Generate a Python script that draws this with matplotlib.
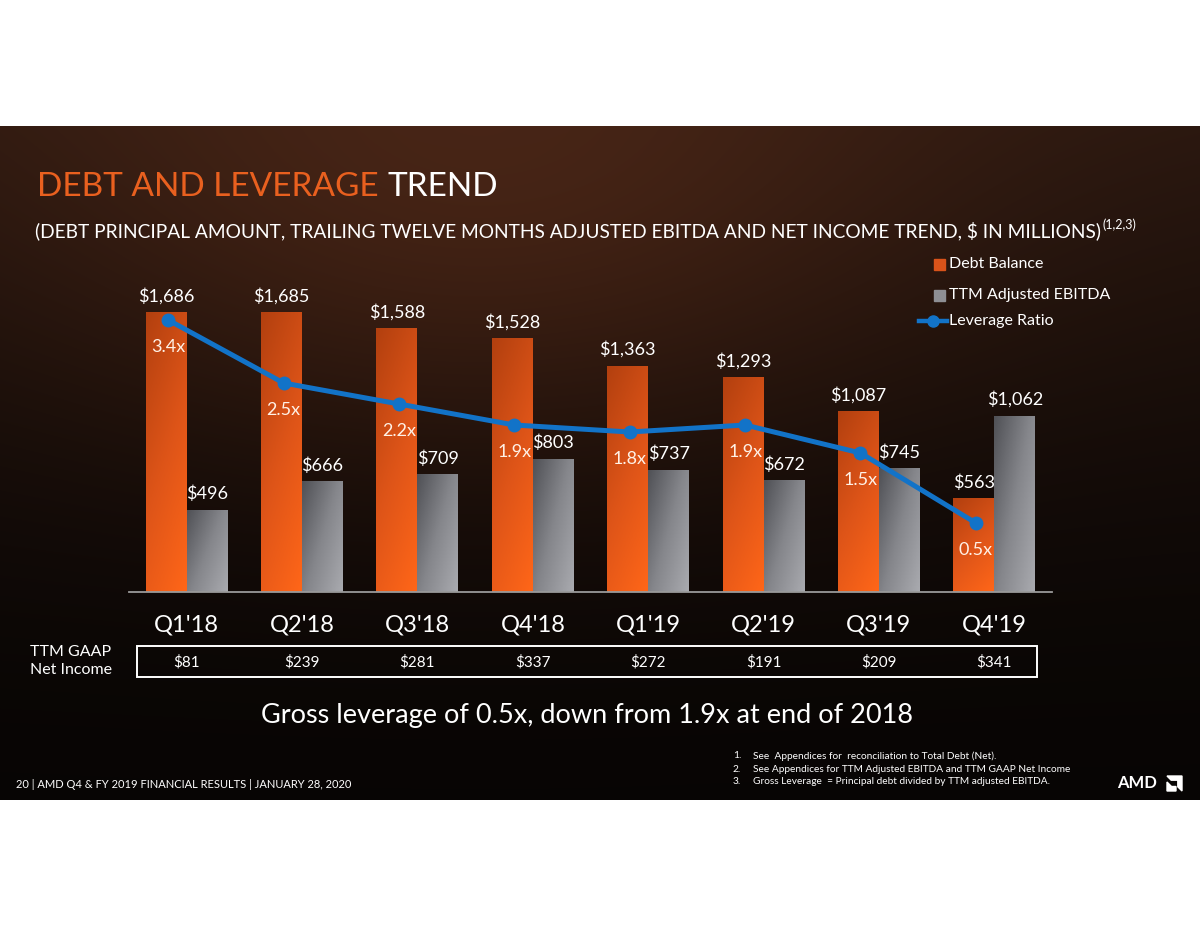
import matplotlib
matplotlib.use('Agg')
import matplotlib.pyplot as plt
import matplotlib.transforms as mtransforms
import numpy as np
from matplotlib.colors import LinearSegmentedColormap
from matplotlib.patches import Rectangle, Polygon
from matplotlib.lines import Line2D

quarters = ["Q1'18", "Q2'18", "Q3'18", "Q4'18", "Q1'19", "Q2'19", "Q3'19", "Q4'19"]
debt = [1686, 1685, 1588, 1528, 1363, 1293, 1087, 563]
ebitda = [496, 666, 709, 803, 737, 672, 745, 1062]
leverage = [3.4, 2.5, 2.2, 1.9, 1.8, 1.9, 1.5, 0.5]
net_income = [81, 239, 281, 337, 272, 191, 209, 341]

footnotes = ["See  Appendices for  reconciliation to Total Debt (Net).",
             "See Appendices for TTM Adjusted EBITDA and TTM GAAP Net Income",
             "Gross Leverage  = Principal debt divided by TTM adjusted EBITDA."]

W, H = 1200, 927
plt.rcParams['font.family'] = ['Lato', 'DejaVu Sans']
ORANGE = '#E9601F'
BLUE = '#1273C8'


def fx(x):
    return x / W


def fy(y):
    return 1 - y / H


fig = plt.figure(figsize=(12, 9.27), dpi=100)
fig.patch.set_facecolor('white')

# dark slide background with a warm glow near the top
bg = fig.add_axes([0, fy(800), 1, (800 - 126) / H])
yy, xx = np.mgrid[0:674, 0:1200]
t = (yy / 674.0)[..., None]
top = np.array([0.16, 0.09, 0.06])
bottom = np.array([0.03, 0.02, 0.016])
img = bottom + (top - bottom) * (1 - t) ** 1.6
glow = np.exp(-((xx - 480) ** 2 / (2 * 330.0 ** 2) + (yy - 80) ** 2 / (2 * 190.0 ** 2)))
img = img + glow[..., None] * np.array([0.13, 0.06, 0.03])
bg.imshow(np.clip(img, 0, 1), aspect='auto', extent=[0, 1, 0, 1])
bg.axis('off')

# main chart
ax = fig.add_axes([fx(129), fy(592), (1052 - 129) / W, (592 - 293) / H])
ax.patch.set_alpha(0)
x = np.arange(len(quarters))
bw = 0.355
debt_bars = ax.bar(x - bw / 2, debt, bw, color='#E5581A', zorder=2)
ebitda_bars = ax.bar(x + bw / 2, ebitda, bw, color='#8A8B90', zorder=2)

orange_cmap = LinearSegmentedColormap.from_list('o', ['#B3400F', '#DD5418', '#FF6618'])
gray_cmap = LinearSegmentedColormap.from_list('g', ['#505156', '#85868B', '#A9AAAF'])


def shade(bars, cmap, wy, wx):
    gy, gx = np.mgrid[0:1:80j, 0:1:30j]
    grad = wy * (1 - gy) + wx * gx
    for b in bars:
        x0, w, h = b.get_x(), b.get_width(), b.get_height()
        im = ax.imshow(grad, cmap=cmap, vmin=0, vmax=1, origin='lower',
                       extent=[x0, x0 + w, 0, h], aspect='auto', zorder=2.5)
        im.set_clip_path(b)


shade(debt_bars, orange_cmap, 0.7, 0.3)
shade(ebitda_bars, gray_cmap, 0.45, 0.55)

ax.set_xlim(-0.5, 7.5)
ax.set_ylim(0, 1800)
for xi, v in zip(x, debt):
    ax.annotate(f'${v:,}', (xi - bw / 2, v), xytext=(0, 11.5), textcoords='offset points',
                ha='center', va='center', color='white', fontsize=13, zorder=6)
for xi, v in zip(x, ebitda):
    ax.annotate(f'${v:,}', (xi + bw / 2, v), xytext=(0, 11.5), textcoords='offset points',
                ha='center', va='center', color='white', fontsize=13, zorder=6)

ax.set_xticks(x, quarters)
ax.tick_params(axis='x', length=0, pad=16, labelsize=17, labelcolor='white')
ax.set_yticks([])
for s in ['top', 'left', 'right']:
    ax.spines[s].set_visible(False)
ax.spines['bottom'].set_color('#9a9a9a')
ax.spines['bottom'].set_linewidth(1.3)

# leverage ratio line on its own scale
ax2 = ax.twinx()
ax2.plot(x - 0.16, leverage, color=BLUE, lw=3.6, marker='o', ms=9, zorder=5)
ax2.set_ylim(-0.486, 3.786)
ax2.axis('off')
for xi, v in zip(x, leverage):
    ax2.annotate(f'{v}x', (xi - 0.16, v), xytext=(0, -19.5), textcoords='offset points',
                 ha='center', va='center', color='#FFF1E6', fontsize=13)

# net income row
trans = mtransforms.blended_transform_factory(ax.transData, fig.transFigure)
for xi, v in zip(x, net_income):
    ax.text(xi, fy(662), f'${v}', transform=trans, ha='center', va='center',
            color='white', fontsize=11)
fig.patches.append(Rectangle((fx(137), fy(677)), (1037 - 137) / W, (677 - 646) / H,
                             transform=fig.transFigure, fill=False, ec='white', lw=1.4))
fig.text(fx(30), fy(661), 'TTM GAAP\nNet Income', color='white', fontsize=11.5,
         va='center', ha='left', linespacing=1.3)

# titles
fig.canvas.draw()
r = fig.canvas.get_renderer()
t1 = fig.text(fx(37), fy(187), 'DEBT AND LEVERAGE ', color=ORANGE, fontsize=24, va='center')
bb = t1.get_window_extent(r)
fig.text(bb.x1 / W, fy(187), 'TREND', color='white', fontsize=24, va='center')

t2 = fig.text(fx(35), fy(231), '(DEBT PRINCIPAL AMOUNT, TRAILING TWELVE MONTHS ADJUSTED EBITDA '
              'AND NET INCOME TREND, $ IN MILLIONS)', color='white', fontsize=13.8, va='center')
bb = t2.get_window_extent(r)
fig.text(bb.x1 / W + 0.001, fy(225), '(1,2,3)', color='white', fontsize=9, va='center')

# legend
fig.patches.append(Rectangle((fx(934), fy(270)), 11 / W, 11 / H, transform=fig.transFigure,
                             color='#D9531A'))
fig.patches.append(Rectangle((fx(934), fy(301)), 11 / W, 11 / H, transform=fig.transFigure,
                             color='#8E8F94'))
fig.lines.append(Line2D([fx(919), fx(947)], [fy(321), fy(321)], transform=fig.transFigure,
                        color=BLUE, lw=3.2))
fig.lines.append(Line2D([fx(933)], [fy(321)], transform=fig.transFigure, color=BLUE,
                        marker='o', ms=8))
for ly, lab in zip([264, 295, 321], ['Debt Balance', 'TTM Adjusted EBITDA', 'Leverage Ratio']):
    fig.text(fx(949), fy(ly), lab, color='white', fontsize=11.5, va='center')

fig.text(fx(587), fy(716), 'Gross leverage of 0.5x, down from 1.9x at end of 2018',
         color='white', fontsize=19.5, ha='center', va='center')

# footer
fig.text(fx(16), fy(784), '20 | AMD Q4 & FY 2019 FINANCIAL RESULTS | JANUARY 28, 2020',
         color='white', fontsize=8, va='center')
for i, note in enumerate(footnotes):
    fig.text(fx(733), fy(756 + 13 * i), f'{i + 1}.', color='white', fontsize=7.3, va='center')
    fig.text(fx(753), fy(756 + 13 * i), note, color='white', fontsize=7.3, va='center')

fig.text(fx(1117), fy(783), 'AMD', color='white', fontsize=12, fontweight='bold', va='center')
s = 15
lx, ly = 1167, 791
outer = [(0, 1), (1, 1), (1, 0), (0.72, 0.28), (0.72, 0.72), (0.28, 0.72)]
inner = [(0, 0), (0, 0.6), (0.3, 0.3), (0.6, 0.3), (0.6, 0.0)]
for shape in (outer, inner):
    pts = [(fx(lx + px * s), fy(ly - py * s)) for px, py in shape]
    fig.patches.append(Polygon(pts, closed=True, transform=fig.transFigure, color='white'))

fig.savefig('out.png', dpi=100, facecolor='white')
